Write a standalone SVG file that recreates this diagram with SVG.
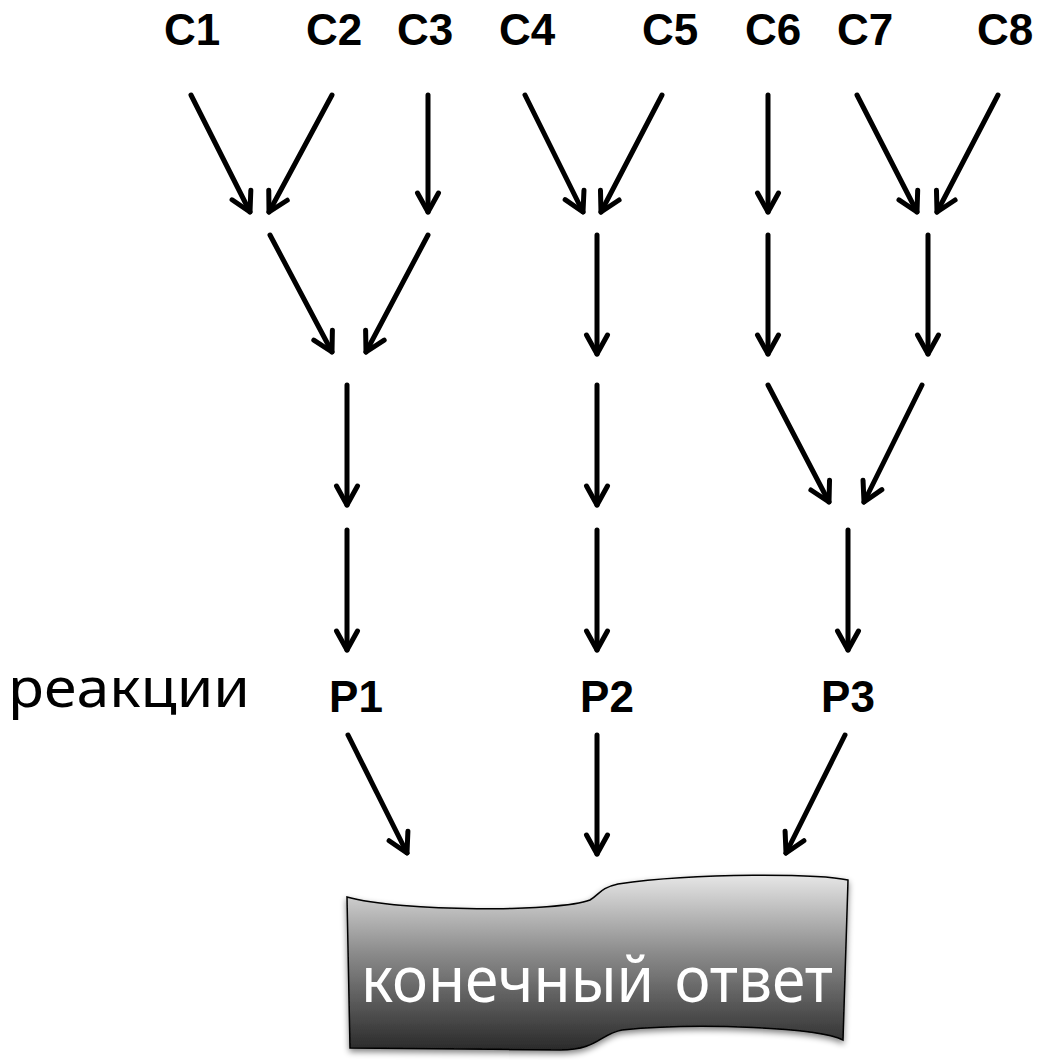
<svg xmlns="http://www.w3.org/2000/svg" width="1047" height="1060" viewBox="0 0 1047 1060">
<defs>
<marker id="ah" viewBox="-14 -4 28 28" refX="10" refY="10" markerWidth="28" markerHeight="28" markerUnits="userSpaceOnUse" orient="auto">
<path d="M-9,-0.5 L10,10 L-9,20.5" fill="none" stroke="#000" stroke-width="5" stroke-linecap="round" stroke-linejoin="round"/>
</marker>
<linearGradient id="g" x1="0" y1="0" x2="0" y2="1">
<stop offset="0" stop-color="#e6e6e6"/>
<stop offset="0.45" stop-color="#8a8a8a"/>
<stop offset="1" stop-color="#2a2a2a"/>
</linearGradient>
<filter id="sh" x="-10%" y="-10%" width="120%" height="130%">
<feGaussianBlur in="SourceAlpha" stdDeviation="3"/>
<feOffset dx="0" dy="3" result="b"/>
<feComponentTransfer><feFuncA type="linear" slope="0.5"/></feComponentTransfer>
<feMerge><feMergeNode/><feMergeNode in="SourceGraphic"/></feMerge>
</filter>
</defs>
<style>
.lbl{font-family:"Liberation Sans",Arial,sans-serif;font-weight:bold;font-size:44px;fill:#000;text-anchor:middle}
.c line{stroke:#000;stroke-width:5;stroke-linecap:round;marker-end:url(#ah)}
</style>
<g id="labels-top">
<text class="lbl" x="192" y="45">C1</text>
<text class="lbl" x="334" y="45">C2</text>
<text class="lbl" x="425" y="45">C3</text>
<text class="lbl" x="527" y="45">C4</text>
<text class="lbl" x="670" y="45">C5</text>
<text class="lbl" x="773" y="45">C6</text>
<text class="lbl" x="865" y="45">C7</text>
<text class="lbl" x="1005" y="45">C8</text>
</g>
<g id="reactions">
<text x="8" y="707" font-family="'Comic Neue','Noto Sans',sans-serif" font-size="54" textLength="242" lengthAdjust="spacingAndGlyphs">реакции</text>
<text class="lbl" x="356" y="712">P1</text>
<text class="lbl" x="607" y="712">P2</text>
<text class="lbl" x="848" y="712">P3</text>
</g>
<g id="connectors" class="c">
<line x1="191" y1="95" x2="250" y2="212"/>
<line x1="332" y1="95" x2="269" y2="212"/>
<line x1="428" y1="95" x2="428" y2="212"/>
<line x1="525" y1="95" x2="583" y2="212"/>
<line x1="662" y1="95" x2="601" y2="212"/>
<line x1="768" y1="95" x2="768" y2="212"/>
<line x1="857" y1="95" x2="917" y2="212"/>
<line x1="998" y1="95" x2="937" y2="212"/>
<line x1="270" y1="235" x2="332" y2="352"/>
<line x1="428" y1="235" x2="366" y2="352"/>
<line x1="597" y1="235" x2="597" y2="354"/>
<line x1="768" y1="235" x2="768" y2="354"/>
<line x1="928" y1="235" x2="928" y2="354"/>
<line x1="347" y1="385" x2="347" y2="505"/>
<line x1="597" y1="385" x2="597" y2="505"/>
<line x1="768" y1="385" x2="829" y2="502"/>
<line x1="922" y1="385" x2="864" y2="502"/>
<line x1="347" y1="530" x2="347" y2="650"/>
<line x1="597" y1="530" x2="597" y2="650"/>
<line x1="848" y1="530" x2="848" y2="650"/>
<line x1="348" y1="735" x2="407" y2="853"/>
<line x1="597" y1="735" x2="597" y2="854"/>
<line x1="845" y1="735" x2="786" y2="853"/>
</g>
<g id="answer">
<path filter="url(#sh)" d="M347,897 C400,912 560,912 590,900 C600,894 600,888 618,884 C700,872 820,874 848,880 L843,1040 C820,1028 700,1022 622,1030 C600,1034 598,1050 560,1050 L350,1048 Z" fill="url(#g)" stroke="#000" stroke-width="1.5"/>
<text x="597" y="1002" font-family="'Comic Neue','Noto Sans',sans-serif" font-size="64" fill="#fff" text-anchor="middle" textLength="472" lengthAdjust="spacingAndGlyphs">конечный ответ</text>
</g>
</svg>
